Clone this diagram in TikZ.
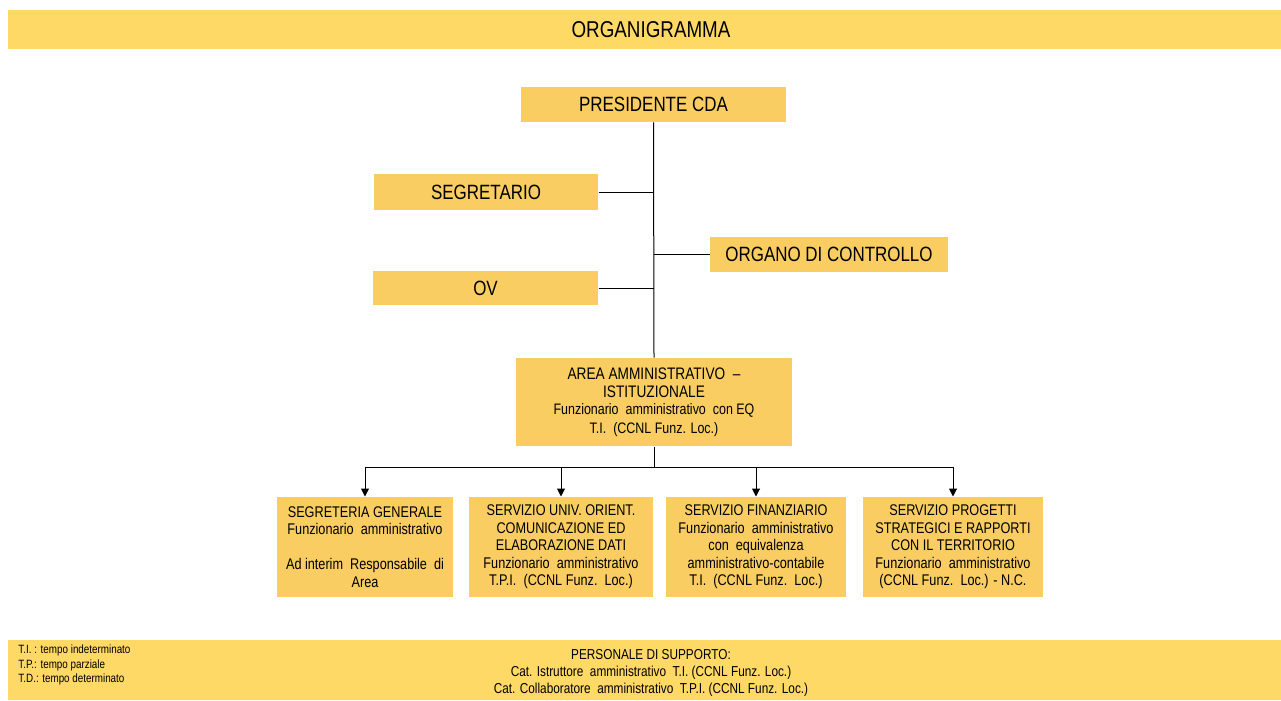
\documentclass[tikz,border=0pt]{standalone}
\usepackage{fontspec}
\setmainfont{Liberation Sans}[FakeStretch=0.82]
\usepackage{tikz}
\usetikzlibrary{arrows.meta}
\definecolor{band}{HTML}{FFD966}
\definecolor{boxfill}{HTML}{F9CD62}

\begin{document}
\begin{tikzpicture}[x=0.75pt,y=-0.75pt]
\tikzstyle{every node}+=[inner sep=0pt]
\tikzstyle{every path}+=[line width=0.75pt]
\tikzstyle{topbox}=[fill=boxfill, font=\fontsize{15.5}{18}\selectfont]
\tikzstyle{unitbox}=[fill=boxfill, minimum height=75pt, align=center, font=\fontsize{11.6}{13.1}\selectfont]
\tikzstyle{down}=[-{Triangle[width=6pt,length=6pt]}]
\useasboundingbox (0,0) rectangle (1281,700);
% bande
\fill [band] (8,10) rectangle (1281,49);
\node (title) at (651,30) {\fontsize{17.2}{18}\selectfont ORGANIGRAMMA};
\fill [band] (8,640) rectangle (1281,700);
\node [anchor=west, align=left, font=\fontsize{9}{10.6}\selectfont] (legend) at (18,665) {T.I. : tempo indeterminato\\T.P.: tempo parziale\\T.D.: tempo determinato};
\node [align=center, font=\fontsize{10.8}{12.8}\selectfont] (staff) at (651,673) {PERSONALE DI SUPPORTO:\\Cat. Istruttore\ \ amministrativo\ \ T.I. (CCNL Funz. Loc.)\\Cat. Collaboratore\ \ amministrativo\ \ T.P.I. (CCNL Funz. Loc.)};
% vertici
\node [topbox, minimum width=199pt, minimum height=26pt] (pres) at (653.5,104.5) {PRESIDENTE CDA};
\node [topbox, minimum width=168pt, minimum height=27pt] (segr) at (486,192) {SEGRETARIO};
\node [topbox, minimum width=178pt, minimum height=26pt] (org) at (829,254.5) {ORGANO DI CONTROLLO};
\node [topbox, minimum width=169pt, minimum height=26pt] (ov) at (485.5,288) {OV};
\node [fill=boxfill, minimum width=207pt, minimum height=66pt, align=center] (area) at (654,402)
  {\fontsize{12.5}{14.5}\selectfont AREA AMMINISTRATIVO\ \ --\\[1.8pt]\fontsize{12.5}{14.5}\selectfont ISTITUZIONALE\\[1pt]
   \fontsize{11.4}{13.5}\selectfont Funzionario\ \ amministrativo\ \ con EQ\\[1.8pt]\fontsize{11.4}{13.5}\selectfont T.I.\ \ (CCNL Funz. Loc.)};
% uffici
\node [unitbox, minimum width=132pt] (sg) at (365,547) {SEGRETERIA GENERALE\\Funzionario\ \ amministrativo\\[13.1pt]Ad interim\ \ Responsabile\ \ di\\Area};
\node [unitbox, minimum width=138pt] (univ) at (561,547) {SERVIZIO UNIV. ORIENT.\\COMUNICAZIONE ED\\ELABORAZIONE DATI\\Funzionario\ \ amministrativo\\T.P.I.\ \ (CCNL Funz.\ \ Loc.)};
\node [unitbox, minimum width=135pt] (fin) at (756,547) {SERVIZIO FINANZIARIO\\Funzionario\ \ amministrativo\\con\ \ equivalenza\\amministrativo-contabile\\T.I.\ \ (CCNL Funz.\ \ Loc.)};
\node [unitbox, minimum width=135pt] (prog) at (953,547) {SERVIZIO PROGETTI\\STRATEGICI E RAPPORTI\\CON IL TERRITORIO\\Funzionario\ \ amministrativo\\(CCNL Funz.\ \ Loc.) - N.C.};
% collegamenti
\coordinate (bus) at (654,467);
\draw (pres.south) -- (area.north);
\draw (segr.east) -- (segr.east -| pres.south);
\draw (ov.east) -- (ov.east -| pres.south);
\draw (org.west) -- (org.west -| pres.south);
\draw (area.south) -- (bus);
\draw (bus -| sg.north) -- (bus -| prog.north);
\draw [down] (bus -| sg.north) -- (sg.north);
\draw [down] (bus -| univ.north) -- (univ.north);
\draw [down] (bus -| fin.north) -- (fin.north);
\draw [down] (bus -| prog.north) -- (prog.north);
\end{tikzpicture}
\end{document}
